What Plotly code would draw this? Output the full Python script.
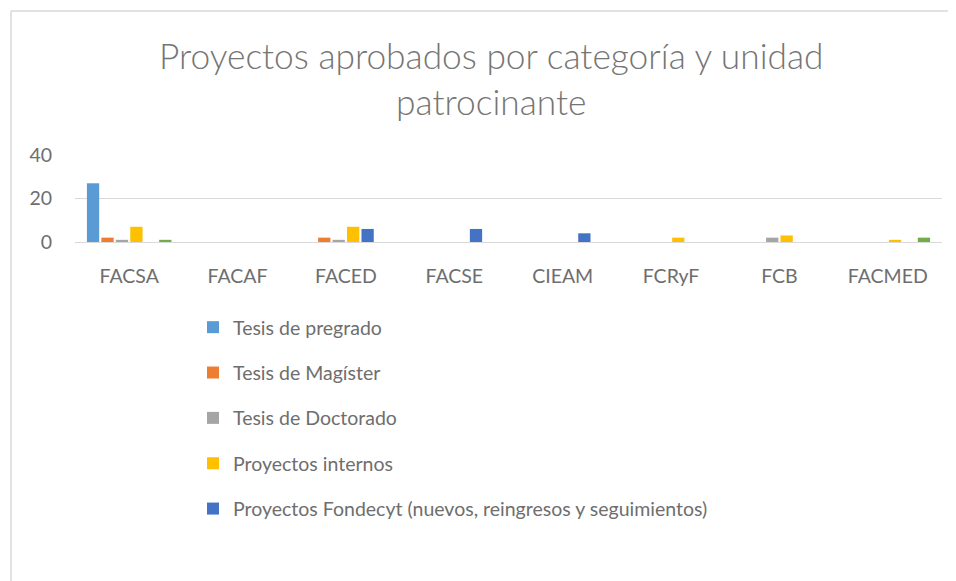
import plotly.graph_objects as go

categorias = ["FACSA", "FACAF", "FACED", "FACSE", "CIEAM", "FCRyF", "FCB", "FACMED"]

series_nombres = [
    "Tesis de pregrado",
    "Tesis de Magíster",
    "Tesis de Doctorado",
    "Proyectos internos",
    "Proyectos Fondecyt (nuevos, reingresos y seguimientos)",
    "Otros",
]
tesis_pregrado = [27, 0, 0, 0, 0, 0, 0, 0]
tesis_magister = [2, 0, 2, 0, 0, 0, 0, 0]
tesis_doctorado = [1, 0, 1, 0, 0, 0, 2, 0]
proyectos_internos = [7, 0, 7, 0, 0, 2, 3, 1]
proyectos_fondecyt = [0, 0, 6, 6, 4, 0, 0, 0]
otros = [1, 0, 0, 0, 0, 0, 0, 2]

valores = [tesis_pregrado, tesis_magister, tesis_doctorado,
           proyectos_internos, proyectos_fondecyt, otros]
colores = ["#5B9BD5", "#ED7D31", "#A5A5A5", "#FFC000", "#4472C4", "#70AD47"]
en_leyenda = [True, True, True, True, True, False]

# page has an 8px body margin: work in screen pixels, convert to figure pixels
OFF = 8
W, H = 956, 581
L, R, T, B = 75 - OFF, W - (942 - OFF), 155 - OFF, H - (242 - OFF)
pw, ph = W - L - R, H - T - B

fig = go.Figure()
for i, (n, v, c, s) in enumerate(zip(series_nombres, valores, colores, en_leyenda)):
    fig.add_trace(go.Bar(x=categorias, y=v, name=n, marker_color=c,
                         marker_line_width=0, showlegend=s, legendgroup=f"g{i}"))

FONT = "Lato"
GRIS = "#6E6E6E"

def px_x(p):
    return (p - OFF - L) / pw

def px_y(p):
    return (H - B - (p - OFF)) / ph

fig.update_layout(
    width=W, height=H,
    margin=dict(l=L, r=R, t=T, b=B, pad=0),
    paper_bgcolor="white", plot_bgcolor="white",
    barmode="group", bargap=0.2, bargroupgap=0.15,
    font=dict(family=FONT, color=GRIS, size=19.5),
    xaxis=dict(showgrid=False, showline=False, ticks="", tickfont=dict(size=19.5, color=GRIS),
               ticklabelstandoff=20),
    yaxis=dict(range=[0, 40], tickvals=[0, 20, 40], showgrid=True, gridcolor="#D9D9D9",
               gridwidth=1, zeroline=True, zerolinecolor="#D9D9D9", zerolinewidth=1,
               showline=False, ticks="", tickfont=dict(size=19.5, color=GRIS),
               ticklabelstandoff=22),
    legend=dict(x=px_x(193), y=px_y(308), xanchor="left", yanchor="top",
                orientation="v", traceorder="grouped", tracegroupgap=17,
                font=dict(size=19.5, color=GRIS), itemwidth=30, bgcolor="rgba(0,0,0,0)"),
    showlegend=True,
)

fig.add_annotation(
    text="Proyectos aprobados por categoría y unidad<br>patrocinante",
    xref="paper", yref="paper", x=px_x(491), y=px_y(32), xanchor="center", yanchor="top",
    showarrow=False, font=dict(family=FONT, size=35.3, color="#757575", weight=300),
    align="center",
)

# chart area border (top and left edges visible)
fig.add_shape(type="line", xref="paper", yref="paper", x0=px_x(11), x1=px_x(970),
              y0=px_y(11), y1=px_y(11), line=dict(color="#D9D9D9", width=1.5))
fig.add_shape(type="line", xref="paper", yref="paper", x0=px_x(11), x1=px_x(11),
              y0=px_y(11), y1=px_y(600), line=dict(color="#D9D9D9", width=1.5))

fig.write_html("out.html")
